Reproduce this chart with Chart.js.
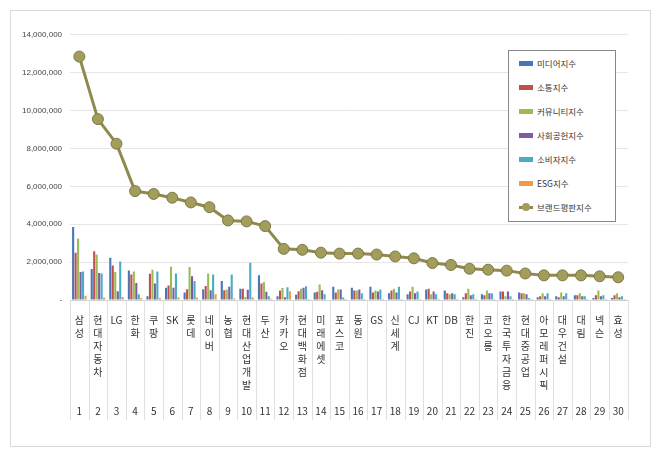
<!DOCTYPE html><html><head><meta charset="utf-8">
<script src="https://cdn.jsdelivr.net/npm/chart.js@4/dist/chart.umd.min.js"></script>
<style>body{margin:0;background:#fff;font-family:"Noto Sans CJK KR",sans-serif}
#frame{position:absolute;left:10px;top:10px;width:639px;height:435px;border:1px solid #d9d9d9}
#wrap{position:absolute;left:14px;top:22px;width:620px;height:402px}
#leg{position:absolute;left:508px;top:50px;width:106px;height:170px;border:1px solid #888;background:#fff;font-size:8.5px;color:#333}
#leg div{display:flex;align-items:center;height:24px;padding-left:10px}
#leg span.s{display:inline-block;width:14px;height:5px;margin-right:4px}
</style></head><body>
<div id="frame"></div><div id="wrap"><canvas id="c"></canvas></div>
<div id="leg"></div>
<script>
const categories=["삼성","현대자동차","LG","한화","쿠팡","SK","롯데","네이버","농협","현대산업개발","두산","카카오","현대백화점","미래에셋","포스코","동원","GS","신세계","CJ","KT","DB","한진","코오롱","한국투자금융","현대중공업","아모레퍼시픽","대우건설","대림","넥슨","효성"];
const media=[3850000,1640000,2230000,1560000,200000,650000,400000,570000,1000000,600000,1300000,200000,280000,400000,700000,650000,700000,350000,300000,550000,500000,150000,300000,450000,400000,150000,200000,250000,100000,100000];
const sotong=[2500000,2570000,1820000,1340000,1380000,770000,570000,740000,520000,600000,870000,500000,460000,430000,400000,500000,400000,500000,450000,600000,350000,350000,250000,450000,350000,200000,150000,250000,250000,250000];
const community=[3250000,2400000,1480000,1500000,1600000,1750000,1740000,1400000,550000,160000,950000,640000,600000,820000,550000,500000,500000,600000,700000,300000,300000,600000,500000,200000,350000,350000,400000,350000,500000,350000];
const social=[1480000,1430000,460000,900000,870000,650000,1260000,520000,700000,540000,430000,150000,650000,520000,550000,550000,450000,400000,350000,450000,350000,250000,350000,450000,300000,200000,200000,200000,200000,150000];
const consumer=[1500000,1400000,2030000,300000,1500000,1400000,1000000,1340000,1340000,1970000,200000,670000,720000,300000,130000,350000,550000,700000,450000,300000,300000,300000,350000,200000,100000,350000,350000,200000,250000,200000];
const esg=[230000,130000,160000,100000,100000,150000,130000,300000,80000,130000,70000,460000,50000,30000,50000,50000,50000,50000,50000,50000,50000,50000,50000,50000,50000,50000,50000,50000,50000,50000];
const brand=[12850000,9550000,8250000,5750000,5600000,5400000,5150000,4900000,4200000,4150000,3900000,2700000,2650000,2500000,2450000,2450000,2400000,2300000,2200000,1950000,1850000,1650000,1600000,1550000,1400000,1300000,1300000,1300000,1250000,1200000];
const names=["미디어지수","소통지수","커뮤니티지수","사회공헌지수","소비자지수","ESG지수","브랜드평판지수"];
const colors=["#4a76b5","#c0504d","#9bbb59","#7a5fa0","#4bacc6","#f79646"];
const series=[media,sotong,community,social,consumer,esg];
const ds=series.map((d,i)=>({type:'bar',label:names[i],data:d,backgroundColor:colors[i],barPercentage:0.85,categoryPercentage:0.8,order:2}));
ds.push({type:'line',label:names[6],data:brand,borderColor:'#8e8a4e',borderWidth:3,pointRadius:5.5,pointBackgroundColor:'#a39d5c',pointBorderColor:'#7d7845',pointBorderWidth:1,order:1});
const leg=document.getElementById('leg');
names.forEach((n,i)=>{leg.innerHTML+= i<6?`<div><span class="s" style="background:${colors[i]}"></span>${n}</div>`:`<div><span class="s" style="height:3px;background:#8e8a4e;position:relative"><span style="position:absolute;left:3px;top:-3px;width:8px;height:8px;border-radius:50%;background:#a39d5c"></span></span>${n}</div>`;});
const sep={id:'sep',afterDraw(ch){const x=ch.scales.x,c=ch.ctx;c.save();c.strokeStyle='#e0e0e0';c.lineWidth=1;
for(let i=0;i<=categories.length;i++){const px=Math.round((i<categories.length?x.getPixelForTick(i)-(x.getPixelForTick(1)-x.getPixelForTick(0))/2:x.right))+0.5;c.beginPath();c.moveTo(px,x.top);c.lineTo(px,x.bottom-4);c.stroke();}c.restore();}};
new Chart(document.getElementById('c'),{data:{labels:categories,datasets:ds},plugins:[sep],options:{responsive:true,maintainAspectRatio:false,animation:false,
layout:{padding:{left:0,right:0,top:8,bottom:0}},
plugins:{legend:{display:false},tooltip:{enabled:false}},
scales:{x:{offset:true,grid:{display:false},border:{color:'#d0d0d0'},
ticks:{autoSkip:false,maxRotation:0,minRotation:0,font:{size:10,family:"Noto Sans CJK KR",lineHeight:1.3},color:'#333',padding:6,
callback:function(v,i){const l=categories[i];let arr=/[A-Z]/.test(l)?[l]:l.split('');while(arr.length<6)arr.push('');arr.push('');arr.push(String(i+1));return arr;}}},
y:{min:0,max:14000000,grid:{color:'#e6e6e6',tickLength:0},border:{display:false},
ticks:{stepSize:2000000,font:{size:8},color:'#444',padding:8,callback:v=>v===0?'-':v.toLocaleString('en-US')}}}}});
</script></body></html>
